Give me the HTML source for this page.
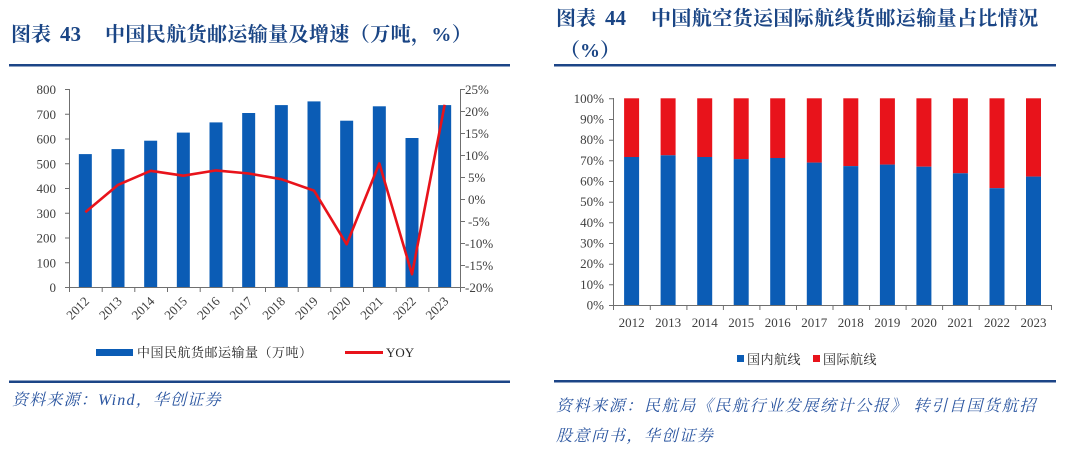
<!DOCTYPE html>
<html><head><meta charset="utf-8"><style>
html,body{margin:0;padding:0;background:#fff;}
svg{display:block;}
.t{font-family:"Liberation Serif","Noto Serif CJK SC",serif;font-weight:bold;fill:#1a4585;font-size:20px;}
.ax{font-family:"Liberation Serif","Noto Serif CJK SC",serif;font-size:13px;fill:#404040;}
.lg{font-family:"Liberation Serif","Noto Serif CJK SC",serif;font-size:13px;fill:#262626;}
.src{font-family:"Liberation Serif","Noto Serif CJK SC",serif;font-style:italic;font-size:16px;fill:#2a55a0;}
</style></head><body>
<svg width="1080" height="453" viewBox="0 0 1080 453" xmlns="http://www.w3.org/2000/svg">
<!-- LEFT TITLE -->
<text class="t" x="11" y="41">图表 <tspan font-size="21" dx="4">43</tspan></text>
<text class="t" x="105" y="41" letter-spacing="0.4">中国民航货邮运输量及增速（万吨，%）</text>
<rect x="9" y="64" width="501" height="2.5" fill="#1c4587"/>

<!-- RIGHT TITLE -->
<text class="t" x="556" y="25">图表 <tspan font-size="21" dx="4">44</tspan></text>
<text class="t" x="651" y="25" letter-spacing="0.4">中国航空货运国际航线货邮运输量占比情况</text>
<text class="t" x="560" y="57">（%）</text>
<rect x="554" y="64" width="502" height="2.5" fill="#1c4587"/>

<!-- LEFT CHART -->
<g fill="#0b5cb5">
<rect x="78.83" y="154.1" width="13" height="132.9"/>
<rect x="111.5" y="149.1" width="13" height="137.9"/>
<rect x="144.17" y="140.7" width="13" height="146.3"/>
<rect x="176.83" y="132.6" width="13" height="154.4"/>
<rect x="209.5" y="122.4" width="13" height="164.6"/>
<rect x="242.17" y="113.0" width="13" height="174.0"/>
<rect x="274.83" y="105.1" width="13" height="181.9"/>
<rect x="307.5" y="101.4" width="13" height="185.6"/>
<rect x="340.17" y="120.7" width="13" height="166.3"/>
<rect x="372.83" y="106.3" width="13" height="180.7"/>
<rect x="405.5" y="138.0" width="13" height="149.0"/>
<rect x="438.17" y="105.1" width="13" height="181.9"/>
</g>
<polyline fill="none" stroke="#e8131b" stroke-width="2.6" stroke-linejoin="round" points="85.33,212.2 118,184.9 150.67,170.8 183.33,175.7 216,170.4 248.67,173.5 281.33,179.2 314,190.6 346.67,244.3 379.33,163.4 412,274.2 444.67,104.8"/>
<g stroke="#6f6f6f" stroke-width="1" fill="none">
<line x1="69.5" y1="89" x2="69.5" y2="287.5"/>
<line x1="69" y1="287.5" x2="461" y2="287.5"/>
<line x1="460.5" y1="89" x2="460.5" y2="287.5"/>
<path d="M65 287.5H69M65 262.75H69M65 238H69M65 213.25H69M65 188.5H69M65 163.75H69M65 139H69M65 114.25H69M65 89.5H69"/>
<path d="M461 287.5H465M461 265.5H465M461 243.5H465M461 221.5H465M461 199.5H465M461 177.5H465M461 155.5H465M461 133.5H465M461 111.5H465M461 89.5H465"/>
<path d="M69.5 287V292M102.2 287V292M134.8 287V292M167.5 287V292M200.2 287V292M232.8 287V292M265.5 287V292M298.2 287V292M330.8 287V292M363.5 287V292M396.2 287V292M428.8 287V292M460.5 287V292"/>
</g>
<g class="ax" text-anchor="end">
<text x="56" y="292">0</text>
<text x="56" y="267.25">100</text>
<text x="56" y="242.5">200</text>
<text x="56" y="217.75">300</text>
<text x="56" y="193">400</text>
<text x="56" y="168.25">500</text>
<text x="56" y="143.5">600</text>
<text x="56" y="118.75">700</text>
<text x="56" y="94">800</text>
</g>
<g class="ax">
<text x="465" y="292">-20%</text>
<text x="465" y="270">-15%</text>
<text x="465" y="248">-10%</text>
<text x="468" y="226">-5%</text>
<text x="468" y="204">0%</text>
<text x="468" y="182">5%</text>
<text x="465" y="160">10%</text>
<text x="465" y="138">15%</text>
<text x="465" y="116">20%</text>
<text x="465" y="94">25%</text>
</g>
<g class="ax" text-anchor="end">
<text transform="translate(90,302) rotate(-45)">2012</text>
<text transform="translate(122.7,302) rotate(-45)">2013</text>
<text transform="translate(155.3,302) rotate(-45)">2014</text>
<text transform="translate(188,302) rotate(-45)">2015</text>
<text transform="translate(220.7,302) rotate(-45)">2016</text>
<text transform="translate(253.3,302) rotate(-45)">2017</text>
<text transform="translate(286,302) rotate(-45)">2018</text>
<text transform="translate(318.7,302) rotate(-45)">2019</text>
<text transform="translate(351.3,302) rotate(-45)">2020</text>
<text transform="translate(384,302) rotate(-45)">2021</text>
<text transform="translate(416.7,302) rotate(-45)">2022</text>
<text transform="translate(449.3,302) rotate(-45)">2023</text>
</g>
<rect x="96" y="349" width="37" height="7" fill="#0b5cb5"/>
<text class="lg" x="137" y="357" letter-spacing="0.5">中国民航货邮运输量（万吨）</text>
<rect x="345" y="351" width="38" height="3" fill="#e8131b"/>
<text class="lg" x="386" y="357">YOY</text>
<rect x="9" y="380.5" width="501" height="2.5" fill="#1c4587"/>
<text class="src" x="12" y="405" letter-spacing="1.2">资料来源：Wind，华创证券</text>

<!-- RIGHT CHART -->
<g fill="#e8131b">
<rect x="624.1" y="98.3" width="15" height="58.7"/>
<rect x="660.6" y="98.3" width="15" height="57.0"/>
<rect x="697.2" y="98.3" width="15" height="58.7"/>
<rect x="733.7" y="98.3" width="15" height="60.8"/>
<rect x="770.2" y="98.3" width="15" height="59.7"/>
<rect x="806.8" y="98.3" width="15" height="64.3"/>
<rect x="843.3" y="98.3" width="15" height="67.8"/>
<rect x="879.9" y="98.3" width="15" height="66.3"/>
<rect x="916.4" y="98.3" width="15" height="68.4"/>
<rect x="952.9" y="98.3" width="15" height="75.0"/>
<rect x="989.5" y="98.3" width="15" height="89.9"/>
<rect x="1026" y="98.3" width="15" height="78.3"/>
</g>
<g fill="#0b5cb5">
<rect x="624.1" y="157.0" width="15" height="148"/>
<rect x="660.6" y="155.3" width="15" height="149.7"/>
<rect x="697.2" y="157.0" width="15" height="148"/>
<rect x="733.7" y="159.1" width="15" height="145.9"/>
<rect x="770.2" y="158.0" width="15" height="147"/>
<rect x="806.8" y="162.6" width="15" height="142.4"/>
<rect x="843.3" y="166.1" width="15" height="138.9"/>
<rect x="879.9" y="164.6" width="15" height="140.4"/>
<rect x="916.4" y="166.7" width="15" height="138.3"/>
<rect x="952.9" y="173.3" width="15" height="131.7"/>
<rect x="989.5" y="188.2" width="15" height="116.8"/>
<rect x="1026" y="176.6" width="15" height="128.4"/>
</g>
<g stroke="#6f6f6f" stroke-width="1" fill="none">
<line x1="613.5" y1="98" x2="613.5" y2="305.5"/>
<line x1="613" y1="305.5" x2="1052" y2="305.5"/>
<path d="M609 305.5H613M609 284.8H613M609 264.2H613M609 243.5H613M609 222.8H613M609 202.2H613M609 181.5H613M609 160.8H613M609 140.2H613M609 119.5H613M609 98.8H613"/>
<path d="M613.5 305V310M650.3 305V310M686.9 305V310M723.4 305V310M759.9 305V310M796.5 305V310M833 305V310M869.6 305V310M906.1 305V310M942.6 305V310M979.2 305V310M1015.7 305V310M1051.5 305V310"/>
</g>
<g class="ax" text-anchor="end" font-size="12.5">
<text x="604" y="309.5">0%</text>
<text x="604" y="288.8">10%</text>
<text x="604" y="268.2">20%</text>
<text x="604" y="247.5">30%</text>
<text x="604" y="226.8">40%</text>
<text x="604" y="206.2">50%</text>
<text x="604" y="185.5">60%</text>
<text x="604" y="164.8">70%</text>
<text x="604" y="144.2">80%</text>
<text x="604" y="123.5">90%</text>
<text x="604" y="102.8">100%</text>
</g>
<g class="ax" text-anchor="middle">
<text x="631.6" y="327">2012</text>
<text x="668.1" y="327">2013</text>
<text x="704.7" y="327">2014</text>
<text x="741.2" y="327">2015</text>
<text x="777.7" y="327">2016</text>
<text x="814.3" y="327">2017</text>
<text x="850.8" y="327">2018</text>
<text x="887.4" y="327">2019</text>
<text x="923.9" y="327">2020</text>
<text x="960.4" y="327">2021</text>
<text x="997" y="327">2022</text>
<text x="1033.5" y="327">2023</text>
</g>
<rect x="737" y="355" width="7" height="7" fill="#0b5cb5"/>
<text class="lg" x="747" y="364" letter-spacing="0.5">国内航线</text>
<rect x="813" y="355" width="7" height="7" fill="#e8131b"/>
<text class="lg" x="823" y="364" letter-spacing="0.5">国际航线</text>
<rect x="554" y="380" width="502" height="2.5" fill="#1c4587"/>
<text class="src" x="556" y="411" letter-spacing="1.6">资料来源：民航局《民航行业发展统计公报》 转引自国货航招</text>
<text class="src" x="556" y="441" letter-spacing="1.6">股意向书，华创证券</text>
</svg>
</body></html>
